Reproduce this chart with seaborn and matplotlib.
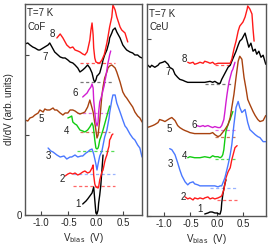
import numpy as np
import seaborn as sns
import matplotlib.pyplot as plt

# ---- CoF panel (left) ----
cof_v1 = [-0.24, -0.18, -0.15, -0.11, -0.07, -0.04, -0.02, 0.0, 0.02, 0.04, 0.05, 0.07, 0.09, 0.11, 0.13]
cof_g1 = [1.1, 1.4, 1.6, 1.9, 2.2, 2.8, 1.5, 0.2, 0.1, 0.5, 1.2, 2.0, 3.0, 4.5, 6.0]

cof_v2 = [-0.56, -0.51, -0.47, -0.42, -0.38, -0.33, -0.29, -0.24, -0.20, -0.15, -0.11, -0.07, -0.05, -0.04,
          -0.02, 0.0, 0.04, 0.05, 0.07, 0.09, 0.11, 0.13, 0.16, 0.18, 0.20, 0.22, 0.24, 0.25, 0.27, 0.29, 0.31]
cof_g2 = [3.9, 4.1, 4.2, 4.1, 4.2, 4.0, 4.1, 4.3, 4.4, 4.2, 4.3, 4.7, 5.0, 4.0,
          3.1, 2.8, 2.7, 2.8, 3.5, 3.9, 4.3, 4.5, 5.3, 5.7, 6.0, 6.5, 6.9, 7.5, 7.7, 8.0, 8.1]

cof_v3 = [-0.87, -0.82, -0.78, -0.71, -0.65, -0.58, -0.53, -0.47, -0.44, -0.38, -0.33, -0.27, -0.24, -0.18,
          -0.15, -0.11, -0.07, -0.04, 0.0, 0.02, 0.04, 0.07, 0.11, 0.16, 0.20, 0.24, 0.25, 0.29, 0.31, 0.35,
          0.38, 0.44, 0.49, 0.53, 0.56, 0.62, 0.67, 0.71, 0.76, 0.80, 0.84]
cof_g3 = [6.7, 6.4, 6.3, 6.0, 5.8, 5.9, 5.6, 5.8, 5.8, 6.0, 5.8, 5.9, 5.9, 6.2,
          6.3, 6.5, 6.6, 6.1, 5.1, 4.5, 5.1, 5.9, 6.4, 7.8, 8.5, 9.7, 10.2, 11.5, 12.0, 12.0,
          11.2, 10.3, 9.5, 8.9, 8.7, 8.1, 7.7, 7.5, 7.0, 6.7, 5.8]

cof_v4 = [-0.51, -0.47, -0.44, -0.42, -0.38, -0.35, -0.29, -0.24, -0.20, -0.15, -0.11, -0.07, -0.05,
          -0.04, -0.02, 0.0, 0.02, 0.04, 0.05, 0.07, 0.09, 0.13, 0.16, 0.18, 0.22, 0.25]
cof_g4 = [9.7, 9.8, 9.9, 9.3, 9.1, 9.0, 8.5, 8.4, 8.3, 8.5, 8.8, 9.2, 8.9,
          8.5, 7.5, 6.7, 6.6, 6.7, 6.9, 7.5, 7.8, 8.5, 9.1, 9.5, 10.3, 10.9]

cof_v5 = [-1.29, -1.24, -1.20, -1.15, -1.11, -1.05, -1.02, -0.96, -0.93, -0.89, -0.84, -0.78, -0.75, -0.71,
          -0.65, -0.60, -0.56, -0.51, -0.47, -0.42, -0.38, -0.33, -0.29, -0.24, -0.20, -0.15, -0.11, -0.07,
          -0.05, -0.02, 0.0, 0.02, 0.04, 0.07, 0.11, 0.13, 0.16, 0.20, 0.22, 0.25, 0.29, 0.31, 0.35, 0.38,
          0.44, 0.49, 0.53, 0.56, 0.62, 0.67, 0.71, 0.76, 0.80, 0.84]
cof_g5 = [9.5, 9.4, 9.7, 9.8, 10.0, 10.2, 10.5, 10.3, 10.6, 10.5, 10.5, 10.7, 10.5, 10.5,
          10.2, 10.0, 10.2, 10.2, 10.5, 10.5, 10.4, 10.2, 10.1, 10.2, 10.3, 10.8, 11.5, 10.7,
          10.3, 9.2, 8.5, 7.7, 8.0, 9.5, 12.0, 12.8, 13.7, 14.3, 14.7, 14.9, 15.0, 14.9, 14.7, 14.3,
          13.3, 12.3, 11.9, 11.7, 11.2, 10.8, 10.3, 9.9, 9.7, 9.3]

cof_v6 = [-0.24, -0.20, -0.16, -0.13, -0.09, -0.07, -0.05, -0.04, -0.02, 0.0, 0.02, 0.04, 0.05, 0.07,
          0.11, 0.13, 0.15, 0.16, 0.18, 0.20, 0.22, 0.24, 0.25, 0.27]
cof_g6 = [11.8, 12.0, 12.2, 12.5, 12.8, 13.1, 12.7, 11.5, 10.3, 9.3, 8.9, 9.3, 10.3, 11.3,
          12.0, 12.5, 12.9, 13.3, 13.8, 14.5, 15.2, 15.7, 16.0, 16.4]

cof_v7 = [-1.29, -1.24, -1.20, -1.15, -1.11, -1.05, -1.02, -0.96, -0.93, -0.87, -0.84, -0.80, -0.75, -0.69,
          -0.65, -0.60, -0.56, -0.51, -0.47, -0.42, -0.38, -0.33, -0.29, -0.24, -0.20, -0.15, -0.11, -0.07,
          -0.04, -0.02, 0.0, 0.02, 0.04, 0.07, 0.11, 0.13, 0.16, 0.20, 0.24, 0.25, 0.29, 0.31, 0.35, 0.38,
          0.44, 0.49, 0.53, 0.56, 0.62, 0.67, 0.71, 0.76, 0.80, 0.84]
cof_g7 = [17.1, 17.2, 17.0, 16.8, 16.7, 16.5, 16.5, 16.7, 16.8, 17.0, 17.2, 16.8, 16.3, 16.0,
          15.8, 15.7, 15.7, 15.5, 15.3, 15.2, 15.0, 14.7, 14.3, 14.5, 14.7, 15.0, 14.7, 14.2,
          13.5, 13.3, 13.5, 13.9, 14.0, 14.2, 15.0, 15.5, 16.0, 16.5, 17.3, 17.7, 18.2, 18.5, 18.7, 18.3,
          17.7, 17.0, 16.7, 16.5, 16.3, 16.2, 16.0, 16.0, 15.8, 15.7]

cof_v8 = [-0.71, -0.65, -0.60, -0.56, -0.53, -0.47, -0.42, -0.38, -0.33, -0.29, -0.24, -0.20, -0.16,
          -0.15, -0.11, -0.09, -0.07, -0.05, -0.04, -0.02, 0.0, 0.04, 0.07, 0.11, 0.15, 0.16, 0.20, 0.22,
          0.25, 0.29, 0.31, 0.35, 0.38, 0.44, 0.47, 0.53, 0.58]
cof_g8 = [17.7, 18.1, 17.7, 17.3, 17.0, 16.7, 16.8, 16.5, 16.4, 16.3, 16.1, 16.0, 16.3,
          16.5, 17.5, 18.5, 19.2, 18.0, 16.7, 15.7, 15.3, 15.2, 15.2, 15.5, 16.0, 16.2, 17.2, 17.8,
          18.8, 19.8, 21.0, 20.5, 19.8, 18.8, 18.5, 18.2, 17.3]

# zero-conductance reference levels (dashed) : level, v_start, v_end
cof_base_level = [2.9, 4.1, 6.4, 8.3, 10.2, 13.3, 15.2]
cof_base_v0 = [-0.42, -0.42, -0.35, -0.29, -0.35, -0.29, -0.29]
cof_base_v1 = [0.35, 0.35, 0.35, 0.25, 0.25, 0.30, 0.35]
cof_label_v = [-0.33, -0.62, -0.87, -0.53, -1.00, -0.38, -0.93, -0.80]
cof_label_g = [1.1, 3.6, 5.9, 8.4, 9.6, 12.2, 15.8, 18.1]

# ---- CeU panel (right) ----
ceu_v1 = [-0.23, -0.17, -0.13, -0.09, -0.04, 0.0, 0.04, 0.06, 0.08, 0.09, 0.11, 0.13, 0.15, 0.17]
ceu_g1 = [0.2, 0.3, 0.4, 0.4, 0.3, 0.3, 0.2, 0.2, 0.6, 1.3, 2.1, 2.7, 3.2, 3.6]

ceu_v2 = [-0.60, -0.55, -0.51, -0.45, -0.42, -0.36, -0.32, -0.26, -0.23, -0.17, -0.13, -0.08, -0.04,
          0.02, 0.06, 0.09, 0.13, 0.17, 0.21, 0.25, 0.28, 0.32, 0.34, 0.38]
ceu_g2 = [1.9, 1.7, 1.8, 1.6, 1.8, 1.7, 1.8, 1.7, 1.8, 1.9, 1.7, 1.8, 1.7,
          1.8, 1.9, 2.0, 2.6, 3.8, 4.4, 4.8, 5.6, 6.4, 6.8, 7.0]

ceu_v3 = [-0.89, -0.85, -0.79, -0.74, -0.70, -0.66, -0.60, -0.55, -0.51, -0.45, -0.42, -0.36, -0.32,
          -0.23, -0.13, -0.04, 0.02, 0.06, 0.09, 0.15, 0.21, 0.25, 0.28, 0.32, 0.36, 0.40, 0.43, 0.47,
          0.53, 0.58, 0.62, 0.68, 0.72, 0.77, 0.81, 0.87, 0.92]
ceu_g3 = [6.7, 6.6, 6.1, 5.3, 4.6, 4.0, 3.4, 3.1, 3.3, 3.4, 3.2, 3.1, 3.0,
          3.0, 3.0, 3.0, 2.9, 3.0, 3.0, 3.8, 5.1, 6.1, 7.1, 9.1, 10.8, 11.4, 10.8, 10.3,
          10.6, 9.3, 8.6, 8.3, 8.1, 7.9, 7.8, 7.4, 7.4]

ceu_v4 = [-0.55, -0.51, -0.42, -0.32, -0.23, -0.13, -0.08, -0.04, 0.02, 0.06, 0.09, 0.11, 0.13, 0.15,
          0.17, 0.19, 0.21, 0.23, 0.25, 0.26, 0.28, 0.30]
ceu_g4 = [5.8, 5.9, 5.8, 5.8, 5.9, 5.8, 6.0, 5.9, 5.9, 5.8, 5.9, 6.1, 6.6, 7.6,
          8.4, 8.8, 9.1, 9.4, 9.6, 9.8, 10.1, 10.4]

ceu_v5 = [-1.32, -1.26, -1.21, -1.17, -1.11, -1.08, -1.02, -0.98, -0.92, -0.89, -0.85, -0.79, -0.74,
          -0.70, -0.64, -0.60, -0.55, -0.51, -0.42, -0.32, -0.23, -0.13, -0.08, -0.04, 0.02, 0.06, 0.09,
          0.15, 0.21, 0.25, 0.28, 0.32, 0.36, 0.40, 0.43, 0.47, 0.51, 0.55, 0.58, 0.62, 0.68, 0.72, 0.77,
          0.81, 0.87, 0.92]
ceu_g5 = [8.8, 8.9, 9.0, 9.1, 9.3, 9.6, 9.5, 9.4, 9.6, 9.7, 9.8, 9.5, 9.0,
          8.8, 8.6, 8.5, 8.4, 8.3, 8.2, 8.2, 8.2, 8.2, 8.3, 8.1, 7.9, 8.0, 8.2,
          8.6, 9.1, 9.8, 10.8, 12.1, 13.8, 15.4, 15.9, 15.6, 13.8, 12.6, 11.6, 11.1, 10.4, 10.0, 9.6,
          9.4, 9.5, 10.0]

ceu_v6 = [-0.38, -0.32, -0.26, -0.23, -0.17, -0.13, -0.08, -0.04, 0.02, 0.06, 0.09, 0.13, 0.15, 0.17,
          0.19, 0.21, 0.23, 0.25, 0.28, 0.30, 0.34]
ceu_g6 = [9.0, 8.9, 9.0, 8.9, 9.0, 8.9, 8.8, 8.9, 8.8, 8.8, 9.0, 9.6, 10.4, 11.3,
          12.1, 12.8, 13.4, 13.8, 14.4, 14.6, 15.3]

ceu_v7 = [-1.32, -1.26, -1.23, -1.17, -1.11, -1.08, -1.02, -0.98, -0.92, -0.89, -0.83, -0.79, -0.74,
          -0.70, -0.64, -0.60, -0.55, -0.51, -0.42, -0.32, -0.23, -0.13, -0.08, -0.04, 0.02, 0.06, 0.09,
          0.13, 0.17, 0.21, 0.25, 0.28, 0.32, 0.36, 0.40, 0.43, 0.47, 0.51, 0.53, 0.57, 0.60, 0.64, 0.68,
          0.72, 0.75, 0.79, 0.83, 0.87, 0.92]
ceu_g7 = [15.1, 14.8, 15.0, 14.8, 15.0, 15.2, 15.3, 15.4, 15.1, 14.8, 14.6, 14.1, 13.8,
          13.6, 13.5, 13.4, 13.3, 13.3, 13.3, 13.3, 13.3, 13.4, 13.3, 13.4, 13.2, 13.2, 13.6,
          14.0, 14.4, 14.8, 15.0, 15.4, 15.9, 16.4, 17.0, 17.4, 17.6, 18.0, 18.2, 17.4, 16.8, 17.2, 16.4,
          16.6, 16.1, 16.4, 15.8, 16.0, 15.1]

ceu_v8 = [-0.55, -0.51, -0.45, -0.42, -0.36, -0.32, -0.26, -0.23, -0.17, -0.13, -0.08, -0.04, 0.02,
          0.25, 0.28, 0.32, 0.36, 0.40, 0.43, 0.49, 0.53, 0.57, 0.58, 0.62, 0.66, 0.68, 0.70]
ceu_g8 = [15.3, 15.2, 15.3, 15.1, 15.2, 15.3, 15.2, 15.4, 15.3, 15.2, 15.3, 15.1, 15.2,
          15.2, 15.6, 16.6, 17.4, 18.4, 18.9, 19.3, 19.8, 20.6, 20.9, 20.6, 20.1, 18.6, 17.4]

ceu_base_level = [1.6, 2.8, 5.7, 7.9, 8.6, 13.1, 15.0]
ceu_base_v0 = [0.0, -0.13, -0.04, -0.04, -0.04, -0.23, -0.04]
ceu_base_v1 = [0.38, 0.38, 0.34, 0.34, 0.34, 0.28, 0.25]
ceu_label_v = [-0.32, -0.64, -0.87, -0.62, -0.89, -0.43, -0.92, -0.62]
ceu_label_g = [0.7, 1.9, 5.2, 6.0, 8.7, 9.1, 14.3, 15.6]

colors = ['black', '#ff1a1a', '#4a78ff', '#11cc11', '#a8420f', '#d21dd2', 'black', '#ff1a1a']
dash_colors = ['#ff6666', '#99b3ff', '#55dd55', '#cc7755', '#e070e0', '#777777', '#ff5555']

sns.set_style('ticks')
plt.rcParams['font.family'] = ['Liberation Sans', 'DejaVu Sans']

fig = plt.figure(figsize=(2.69, 2.48), dpi=100)
ax_l = fig.add_axes([0.093, 0.133, 0.435, 0.851])
ax_r = fig.add_axes([0.546, 0.129, 0.442, 0.855])

panels = [
    (ax_l, 'CoF', [cof_v1, cof_v2, cof_v3, cof_v4, cof_v5, cof_v6, cof_v7, cof_v8],
     [cof_g1, cof_g2, cof_g3, cof_g4, cof_g5, cof_g6, cof_g7, cof_g8],
     cof_base_level, cof_base_v0, cof_base_v1, cof_label_v, cof_label_g, (-1.29, 0.84), [0, 8, 16]),
    (ax_r, 'CeU', [ceu_v1, ceu_v2, ceu_v3, ceu_v4, ceu_v5, ceu_v6, ceu_v7, ceu_v8],
     [ceu_g1, ceu_g2, ceu_g3, ceu_g4, ceu_g5, ceu_g6, ceu_g7, ceu_g8],
     ceu_base_level, ceu_base_v0, ceu_base_v1, ceu_label_v, ceu_label_g, (-1.32, 0.92), [0, 17.6]),
]

for ax, name, vs, gs, bl, b0, b1, lv, lg, xl, yt in panels:
    for i in range(len(bl)):
        ax.plot([b0[i], b1[i]], [bl[i], bl[i]], ls=(0, (2.5, 2)), lw=0.9, color=dash_colors[i])
    for i in range(8):
        sns.lineplot(x=vs[i], y=gs[i], ax=ax, color=colors[i], lw=1.0, sort=False, estimator=None)
        ax.text(lv[i], lg[i], str(i + 1), fontsize=7, ha='center', va='center', color='#222222')
    ax.text(0.02, 0.955, 'T=7 K', transform=ax.transAxes, fontsize=7, va='center')
    ax.text(0.02, 0.89, name, transform=ax.transAxes, fontsize=7, va='center')
    ax.set_xlim(*xl)
    ax.set_ylim(0, 21.1)
    ax.set_xticks([-1.0, -0.5, 0.0, 0.5])
    ax.set_xticklabels(['-1.0', '-0.5', '0.0', '0.5'])
    ax.set_yticks(yt)
    ax.tick_params(direction='in', length=3, width=0.8, labelsize=7, pad=2, color='#444444')
    for s in ax.spines.values():
        s.set_color('#555555')
        s.set_linewidth(1.0)
    ax.set_xlabel(r'V$_{\rm bias}$  (V)', fontsize=7, labelpad=2)

ax_l.set_yticklabels(['0', '', ''])
ax_r.set_yticklabels(['', ''])
ax_l.set_ylabel('dI/dV (arb. units)', fontsize=7, labelpad=2)
ax_r.set_ylabel('')

fig.savefig('out.png', dpi=100)
